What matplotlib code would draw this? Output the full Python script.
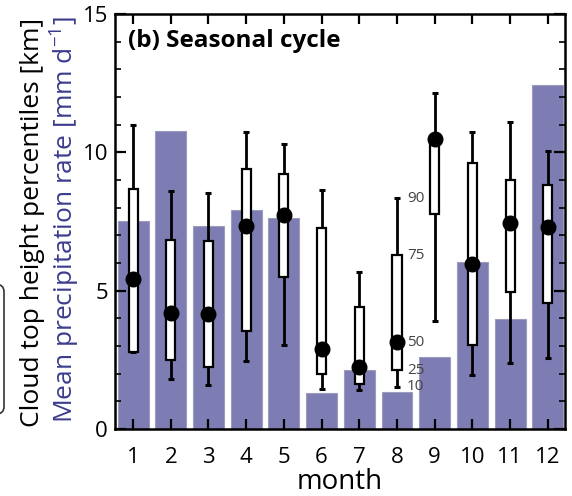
import matplotlib
matplotlib.use("Agg")
import matplotlib.pyplot as plt
from matplotlib.patches import FancyBboxPatch
from matplotlib.ticker import MultipleLocator

plt.rcParams['font.family'] = ['Open Sans', 'DejaVu Sans']
plt.rcParams['mathtext.fontset'] = 'custom'
plt.rcParams['mathtext.rm'] = 'Open Sans'

# Monthly data
months = [1, 2, 3, 4, 5, 6, 7, 8, 9, 10, 11, 12]
precip = [7.52, 10.78, 7.35, 7.90, 7.61, 1.29, 2.13, 1.35, 2.61, 6.05, 3.96, 12.44]
p10 = [2.79, 1.82, 1.59, 2.46, 3.05, 1.46, 1.41, 1.52, 3.91, 1.94, 2.37, 2.58]
p25 = [2.79, 2.49, 2.25, 3.54, 5.49, 1.98, 1.63, 2.13, 7.76, 3.02, 4.94, 4.54]
p50 = [5.42, 4.19, 4.14, 7.33, 7.73, 2.90, 2.25, 3.13, 10.48, 5.95, 7.43, 7.31]
p75 = [8.66, 6.82, 6.81, 9.40, 9.23, 7.25, 4.42, 6.28, 10.30, 9.60, 8.99, 8.81]
p90 = [10.98, 8.59, 8.53, 10.72, 10.29, 8.64, 5.66, 8.34, 12.13, 10.74, 11.08, 10.05]
pct_names = ["90", "75", "50", "25", "10"]
key_month = 8

bar_color = '#7d7db4'
blue_text = '#3c3c8e'

fig = plt.figure(figsize=(5.72, 4.96), dpi=100)
ax = fig.add_axes([0.201, 0.135, 0.787, 0.837])

# precipitation bars
ax.bar(months, precip, width=0.82, color=bar_color, edgecolor='#9c9cbc',
       linewidth=0.8, zorder=1)

# whiskers (10th-90th percentile)
ax.vlines(months, p10, p90, color='black', linewidth=2.0, zorder=2)
ax.plot(months, p90, ls='none', marker='_', ms=5, mew=2.2, color='black', zorder=2)
ax.plot(months, p10, ls='none', marker='_', ms=5, mew=2.2, color='black', zorder=2)

# boxes (25th-75th percentile)
heights = [hi - lo for lo, hi in zip(p25, p75)]
ax.bar(months, heights, bottom=p25, width=0.24, color='white',
       edgecolor='black', linewidth=1.6, zorder=3)

# median dots
ax.plot(months, p50, ls='none', marker='o', ms=10.5, color='black', zorder=4)

# percentile key next to one month
i = months.index(key_month)
key_vals = [p90[i], p75[i], p50[i], p25[i], p10[i]]
for name, val in zip(pct_names, key_vals):
    ax.text(key_month + 0.26, val, name, fontsize=11, color='#444444',
            ha='left', va='center', zorder=5)

ax.set_xlim(0.52, 12.46)
ax.set_ylim(0, 15)
ax.set_xticks(months)
ax.set_xticklabels([str(m) for m in months])
ax.set_yticks([0, 5, 10, 15])
ax.yaxis.set_minor_locator(MultipleLocator(1))

ax.tick_params(axis='both', which='both', direction='in', top=True, right=True,
               width=1.6, colors='black')
ax.tick_params(axis='x', which='major', length=7, labelsize=16, pad=13)
ax.tick_params(axis='y', which='major', length=8, labelsize=16, pad=5)
ax.tick_params(axis='y', which='minor', length=4, width=1.2)
for sp in ax.spines.values():
    sp.set_linewidth(1.8)

ax.set_xlabel('month', fontsize=20, labelpad=0)

ax.text(0.029, 0.92, '(b) Seasonal cycle', transform=ax.transAxes,
        fontsize=17.5, fontweight='bold', ha='left', va='baseline', zorder=6)

# two-line y label
fig.text(33 / 572, 1 - 222 / 496, 'Cloud top height percentiles [km]',
         rotation=90, fontsize=19, color='black', ha='center', va='center')
fig.text(64 / 572, 1 - 220 / 496, r'Mean precipitation rate [mm d$^{\mathregular{-1}}$]',
         rotation=90, fontsize=19, color=blue_text, ha='center', va='center')

# edge of a neighbouring legend frame
frame = FancyBboxPatch((-0.08, 0.165), 0.087, 0.262,
                       boxstyle='round,pad=0,rounding_size=0.015',
                       transform=fig.transFigure, fill=False,
                       edgecolor='#333333', linewidth=1.2, clip_on=False)
fig.add_artist(frame)

fig.savefig('out.png', dpi=100)
